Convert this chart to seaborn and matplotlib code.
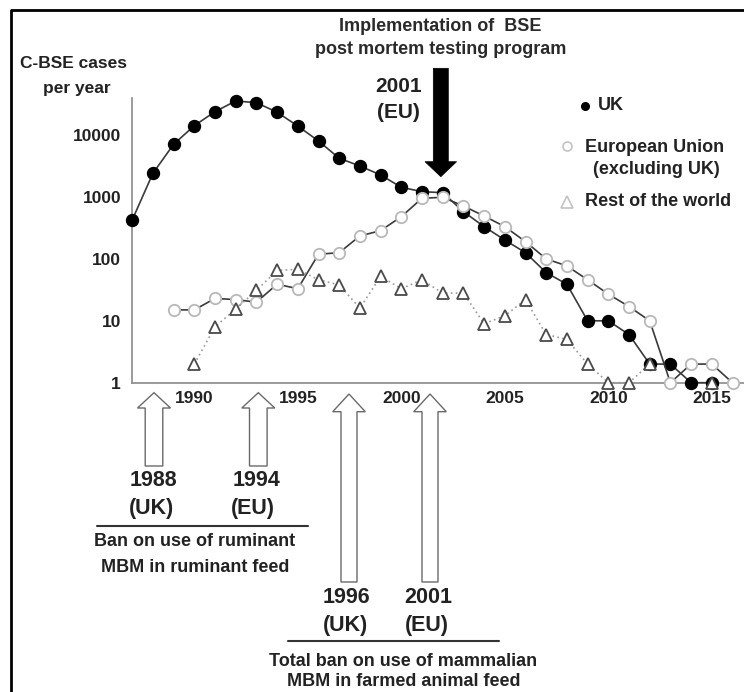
import numpy as np
import pandas as pd
import matplotlib
matplotlib.use("Agg")
import matplotlib.pyplot as plt
from matplotlib.patches import Polygon
from matplotlib.lines import Line2D
import seaborn as sns

# ---------------- data ----------------
years_uk = list(range(1987, 2016))
uk_cases = [425, 2415, 7100, 14200, 23900, 35600, 33400, 23400, 14000, 8030,
            4220, 3170, 2270, 1435, 1220, 1175, 580, 332, 202, 126,
            60, 39, 10, 10, 6, 2, 2, 1, 1]

years_eu = list(range(1989, 2017))
eu_cases = [15, 15, 23, 22, 20, 39, 33, 119, 126, 235, 286, 481, 953, 989,
            716, 493, 332, 190, 100, 77, 46, 27, 17, 10, 1, 2, 2, 1]

years_row = list(range(1990, 2016))
row_cases = [2, 8, 15.5, 31, 65, 68, 46, 38, 16, 52, 33, 46, 28, 28, 9, 12,
             22, 6, 5, 2, 1, 1, 2, np.nan, np.nan, 1]

xticks = [1990, 1995, 2000, 2005, 2010, 2015]
yticks = [1, 10, 100, 1000, 10000]
ytick_labels = ["1", "10", "100", "1000", "10000"]

series_labels = ["UK", "European Union", "(excluding UK)", "Rest of the world"]

# ---------------- style ----------------
sns.set_theme(style="white")
FONT = ["Liberation Sans", "DejaVu Sans"]
plt.rcParams["font.family"] = FONT
plt.rcParams["font.weight"] = "bold"

W, H = 744, 692
fig = plt.figure(figsize=(W / 100, H / 100), dpi=100)
fig.patch.set_facecolor("white")

def fx(x):
    return x / W

def fy(y):
    return 1 - y / H

ax_left, ax_right, ax_top, ax_bottom = 132.2, 744, 98.3, 382.7
ax = fig.add_axes([fx(ax_left), fy(ax_bottom), fx(ax_right - ax_left),
                   (ax_bottom - ax_top) / H])
ax.set_facecolor("none")

TXT = "#222222"

# UK
df_uk = pd.DataFrame({"year": years_uk, "cases": uk_cases})
sns.lineplot(data=df_uk, x="year", y="cases", ax=ax, color="#3a3a3a",
             linewidth=1.2, marker="o", markersize=8.6,
             markerfacecolor="black", markeredgecolor="black",
             markeredgewidth=1.0, clip_on=False, zorder=3)

# EU
df_eu = pd.DataFrame({"year": years_eu, "cases": eu_cases})
sns.lineplot(data=df_eu, x="year", y="cases", ax=ax, color="#3a3a3a",
             linewidth=1.2, marker="o", markersize=8.2,
             markerfacecolor="white", markeredgecolor="#b8b8b8",
             markeredgewidth=1.3, clip_on=False, zorder=4)

# Rest of the world (break at missing values)
df_row = pd.DataFrame({"year": years_row, "cases": row_cases})
seg_id = df_row["cases"].isna().cumsum()
for _, seg in df_row.dropna().groupby(seg_id[df_row["cases"].notna()]):
    sns.lineplot(data=seg, x="year", y="cases", ax=ax, color="#9a9a9a",
                 linewidth=1.2, linestyle=(0, (1, 2)), marker="^",
                 markersize=9, markerfacecolor="white",
                 markeredgecolor="#4a4a4a", markeredgewidth=1.3,
                 clip_on=False, zorder=5)

ax.set_yscale("log")
ax.set_ylim(1, 10 ** ((ax_bottom - ax_top) / 61.9))
ax.set_xlim(1987, 1987 + (ax_right - ax_left) / 20.7)
ax.set_xticks(xticks)
ax.set_xticklabels([str(t) for t in xticks])
ax.set_yticks(yticks)
ax.set_yticklabels(ytick_labels)
ax.yaxis.set_minor_locator(matplotlib.ticker.NullLocator())
ax.set_xlabel("")
ax.set_ylabel("")
for s in ["top", "right"]:
    ax.spines[s].set_visible(False)
for s in ["left", "bottom"]:
    ax.spines[s].set_color("#8a8a8a")
    ax.spines[s].set_linewidth(1.2)
ax.tick_params(axis="y", which="major", direction="out", length=4, width=1,
               color="#8a8a8a", pad=4, labelsize=12.5, labelcolor=TXT)
ax.tick_params(axis="x", which="major", direction="out", length=3, width=1,
               color="#8a8a8a", pad=3, labelsize=12.5, labelcolor=TXT)
for lab in ax.get_xticklabels() + ax.get_yticklabels():
    lab.set_fontweight("bold")

# ---------------- text helpers ----------------
def ftext(x, y, s, size, color=TXT, ha="center"):
    fig.text(fx(x), fy(y), s, ha=ha, va="center", fontsize=size,
             fontweight="bold", color=color, family=FONT)

def up_arrow(cx, ytip, ybot, hw, hl, sw, face="white", edge="#6a6a6a"):
    pts = [(cx, ytip), (cx + hw, ytip + hl), (cx + sw, ytip + hl),
           (cx + sw, ybot), (cx - sw, ybot), (cx - sw, ytip + hl),
           (cx - hw, ytip + hl)]
    pts = [(fx(x), fy(y)) for x, y in pts]
    fig.add_artist(Polygon(pts, closed=True, facecolor=face, edgecolor=edge,
                           linewidth=1.0, transform=fig.transFigure))

def down_arrow(cx, ytop, ytip, hw, hl, sw):
    pts = [(cx, ytip), (cx + hw, ytip - hl), (cx + sw, ytip - hl),
           (cx + sw, ytop), (cx - sw, ytop), (cx - sw, ytip - hl),
           (cx - hw, ytip - hl)]
    pts = [(fx(x), fy(y)) for x, y in pts]
    fig.add_artist(Polygon(pts, closed=True, facecolor="black",
                           edgecolor="black", linewidth=0.5,
                           transform=fig.transFigure))

def hline(x0, x1, y, lw=1.5, color="#333333"):
    fig.add_artist(Line2D([fx(x0), fx(x1)], [fy(y), fy(y)], color=color,
                          linewidth=lw, transform=fig.transFigure))

# frame (left and top edges visible)
fig.add_artist(Line2D([fx(11), fx(11), fx(744)], [fy(692), fy(9.5), fy(9.5)],
                      color="black", linewidth=2.0,
                      transform=fig.transFigure))

# y label
ftext(74, 64, "C-BSE cases", 12.5)
ftext(77, 88, "per year", 12.5)

# top title and arrow
ftext(440, 26.5, "Implementation of  BSE", 13, color="#2a2a2a")
ftext(441, 49, "post mortem testing program", 13, color="#2a2a2a")
ftext(399, 86, "2001", 15)
ftext(398.5, 113, "(EU)", 15)
down_arrow(440.8, 68.3, 176.7, 15.8, 15.0, 7.5)

# legend
fig.add_artist(Line2D([fx(585)], [fy(106)], marker="o", markersize=5.5,
                      color="black", linestyle="none",
                      transform=fig.transFigure))
ftext(598, 106, series_labels[0], 13, ha="left")
fig.add_artist(Line2D([fx(566.7)], [fy(145.5)], marker="o", markersize=6.5,
                      markerfacecolor="white", markeredgecolor="#c4c4c4",
                      markeredgewidth=1.2, linestyle="none",
                      transform=fig.transFigure))
ftext(585, 147.3, series_labels[1], 13, ha="left")
ftext(656, 170, series_labels[2], 13)
fig.add_artist(Line2D([fx(566.7)], [fy(201.5)], marker="^", markersize=9,
                      markerfacecolor="white", markeredgecolor="#c4c4c4",
                      markeredgewidth=1.2, linestyle="none",
                      transform=fig.transFigure))
ftext(585, 201.7, series_labels[3], 13, ha="left")

# bottom arrows: ruminant feed ban
up_arrow(154.0, 392.7, 466, 16.5, 15.3, 8.8)
up_arrow(258.3, 392.7, 466, 16.5, 15.3, 8.8)
ftext(153.3, 480.7, "1988", 15.5)
ftext(151.7, 508.3, "(UK)", 15.5)
ftext(256.7, 480.7, "1994", 15.5)
ftext(253.0, 508.3, "(EU)", 15.5)
hline(97.3, 308.3, 526)
ftext(195, 541, "Ban on use of ruminant", 13)
ftext(195, 568, "MBM in ruminant feed", 13)

# bottom arrows: total ban
up_arrow(349.0, 394, 582, 16.3, 17.7, 8.0)
up_arrow(430.0, 394, 582, 16.3, 17.7, 8.0)
ftext(346.7, 597.3, "1996", 15.5)
ftext(345.0, 625, "(UK)", 15.5)
ftext(428.3, 597.3, "2001", 15.5)
ftext(426.7, 625, "(EU)", 15.5)
hline(288, 499, 641)
ftext(403.5, 661, "Total ban on use of mammalian", 13)
ftext(403.5, 681.7, "MBM in farmed animal feed", 13)

fig.savefig("out.png", dpi=100)
